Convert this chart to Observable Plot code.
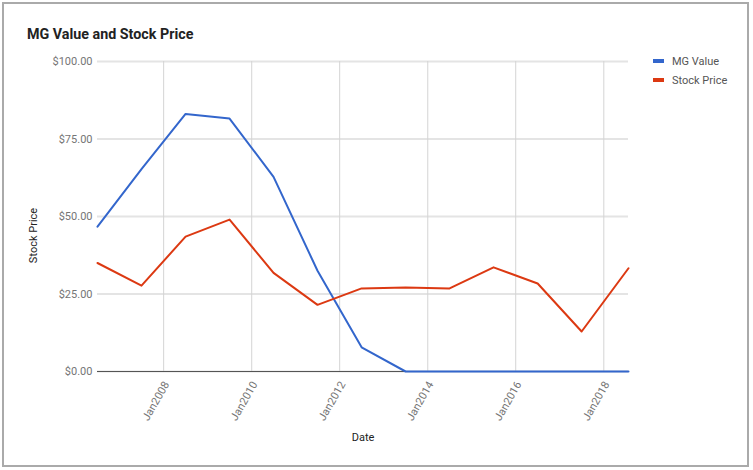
<!DOCTYPE html>
<html><head><meta charset="utf-8">
<script src="https://cdn.jsdelivr.net/npm/d3@7"></script>
<script src="https://cdn.jsdelivr.net/npm/@observablehq/plot@0.6"></script>
<style>
body{margin:0;background:#fff;font-family:Roboto,sans-serif}
#wrap{position:relative;width:753px;height:470px;overflow:hidden}
#wrap svg{position:absolute;left:0;top:0}
#border{position:absolute;left:2px;top:2px;width:743px;height:461px;border:2px solid #aaa;pointer-events:none}
#title{position:absolute;left:27px;top:26.5px;font-size:14.3px;line-height:14px;font-weight:bold;color:#222;white-space:nowrap}
.legtext{position:absolute;left:672px;font-size:11px;line-height:11px;color:#555;white-space:nowrap}
.sw{position:absolute;left:653px;width:11px;height:4px}
</style></head>
<body>
<div id="wrap">
<div id="chart"></div>
<div id="title"></div>
<div id="legend"></div>
<div id="border"></div>
</div>
<script>
const titleText = "MG Value and Stock Price";
const dates = ["2006-07-01","2007-07-01","2008-07-01","2009-07-01","2010-07-01","2011-07-01","2012-07-01","2013-07-01","2014-07-01","2015-07-01","2016-07-01","2017-07-01","2018-07-25"];
const mgValue = [46.7,65.3,83.1,81.6,62.8,32.5,7.8,0,0,0,0,0,0];
const stockPrice = [35.0,27.7,43.5,49.0,31.8,21.5,26.8,27.1,26.8,33.6,28.4,12.9,33.3];
const seriesNames = ["MG Value","Stock Price"];
const seriesColors = ["#3366cc","#dc3912"];
const yTicks = [0,25,50,75,100];
const xTickYears = [2008,2010,2012,2014,2016,2018];
const xLabel = "Date";
const yLabel = "Stock Price";

const parsed = dates.map(d => new Date(d + "T00:00:00Z"));
const rows = [];
parsed.forEach((d,i) => {
  rows.push({date:d, value:mgValue[i], series:seriesNames[0]});
  rows.push({date:d, value:stockPrice[i], series:seriesNames[1]});
});
const xTicks = xTickYears.map(y => new Date(Date.UTC(y,0,1)));

const chart = Plot.plot({
  width:753, height:470,
  marginLeft:97, marginRight:125, marginTop:61, marginBottom:99,
  style:{fontFamily:"Roboto, sans-serif", fontSize:"11px", color:"#757575", background:"transparent"},
  x:{type:"utc", domain:[parsed[0], parsed[parsed.length-1]]},
  y:{domain:[0,100]},
  marks:[
    Plot.gridY(yTicks, {stroke:"#e4e4e4", strokeWidth:2, strokeOpacity:1}),
    Plot.gridX(xTicks, {stroke:"#d4d4d4", strokeWidth:1, strokeOpacity:1}),
    Plot.axisY(yTicks, {tickSize:0, tickPadding:5, tickFormat:d => "$" + d.toFixed(2), label:null, fill:"#757575"}),
    Plot.axisX(xTicks, {tickSize:0, tickPadding:11, dx:3, tickRotate:-60, tickFormat:d => "Jan" + d.getUTCFullYear(), label:null, fill:"#757575"}),
    Plot.ruleY([0], {stroke:"#555", strokeWidth:1}),
    Plot.line(rows.filter(r => r.series===seriesNames[0]), {x:"date", y:"value", stroke:seriesColors[0], strokeWidth:2}),
    Plot.line(rows.filter(r => r.series===seriesNames[1]), {x:"date", y:"value", stroke:seriesColors[1], strokeWidth:2}),
    Plot.text([xLabel], {frameAnchor:"bottom", textAnchor:"middle", lineAnchor:"middle", dy:66, fill:"#222", fontSize:11}),
    Plot.text([yLabel], {frameAnchor:"left", textAnchor:"middle", lineAnchor:"middle", dx:-64.5, dy:19, rotate:-90, fill:"#222", fontSize:11})
  ]
});
document.getElementById("chart").appendChild(chart);
document.getElementById("title").textContent = titleText;
const legend = document.getElementById("legend");
seriesNames.forEach((n,i) => {
  const sw = document.createElement("div");
  sw.className = "sw"; sw.style.background = seriesColors[i]; sw.style.top = (59 + i*19) + "px";
  legend.appendChild(sw);
  const t = document.createElement("div");
  t.className = "legtext"; t.textContent = n; t.style.top = (55.7 + i*19) + "px";
  legend.appendChild(t);
});
</script>
</body></html>
